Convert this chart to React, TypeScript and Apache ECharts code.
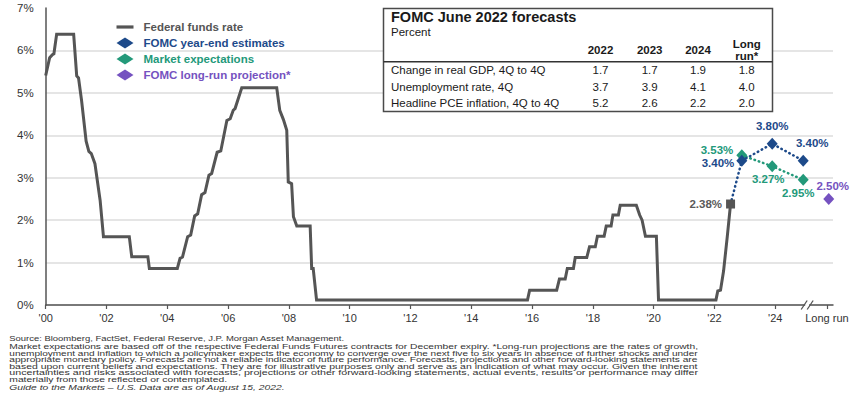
import React, { useEffect, useRef } from "react";
import * as echarts from "echarts";

// ---------- Data ----------
const ffDates = [
  2000.0, 2000.13, 2000.22, 2000.27, 2000.36, 2000.92, 2001.02, 2001.08, 2001.18, 2001.33,
  2001.42, 2001.5, 2001.62, 2001.79, 2001.9, 2002.75, 2002.83, 2003.36, 2003.41, 2004.33,
  2004.42, 2004.5, 2004.67, 2004.77, 2004.9, 2005.0, 2005.13, 2005.24, 2005.37, 2005.46,
  2005.64, 2005.76, 2005.96, 2006.07, 2006.17, 2006.23, 2006.45, 2007.6, 2007.7, 2007.82,
  2007.93, 2007.98, 2008.09, 2008.15, 2008.26, 2008.7, 2008.75, 2008.8, 2008.91, 2015.85,
  2015.92, 2016.81, 2016.9, 2017.09, 2017.16, 2017.36, 2017.42, 2017.8, 2017.89, 2018.08,
  2018.15, 2018.37, 2018.44, 2018.6, 2018.66, 2018.84, 2018.9, 2019.43, 2019.54, 2019.62,
  2019.73, 2020.09, 2020.16, 2022.05, 2022.11, 2022.2, 2022.3, 2022.42, 2022.53,
];
const ffRates = [
  5.41, 5.83, 5.9, 5.92, 6.38, 6.38, 5.4, 5.35, 4.82, 3.86,
  3.62, 3.57, 3.33, 2.47, 1.61, 1.61, 1.14, 1.14, 0.86, 0.86,
  1.1, 1.13, 1.61, 1.65, 2.1, 2.15, 2.6, 2.65, 3.06, 3.1,
  3.6, 3.63, 4.35, 4.39, 4.59, 4.63, 5.12, 5.12, 4.59, 4.37,
  4.12, 2.9, 2.86, 2.08, 1.86, 1.86, 0.86, 0.86, 0.12, 0.12,
  0.35, 0.35, 0.61, 0.61, 0.86, 0.86, 1.12, 1.12, 1.37, 1.37,
  1.62, 1.62, 1.86, 1.86, 2.12, 2.12, 2.35, 2.35, 2.12, 2.0,
  1.62, 1.62, 0.12, 0.12, 0.33, 0.35, 0.8, 1.6, 2.38,
];
const currentDate = 2022.53;
const currentRate = 2.38;

const projDates = [2022.9, 2023.9, 2024.92];
const fomcEstimates = [3.4, 3.8, 3.4];
const marketExpect = [3.53, 3.27, 2.95];
const longRunDate = 2025.76;
const longRunValue = 2.5;

const xTickValues = [2000, 2002, 2004, 2006, 2008, 2010, 2012, 2014, 2016, 2018, 2020, 2022, 2024, 2025.7];
const breakDate = 2025.05;

const tableTitle = "FOMC June 2022 forecasts";
const tableSubtitle = "Percent";
const tableCols = ["2022", "2023", "2024", "Long\nrun*"];
const tableRows = ["Change in real GDP, 4Q to 4Q", "Unemployment rate, 4Q", "Headline PCE inflation, 4Q to 4Q"];
const gdpValues = [1.7, 1.7, 1.9, 1.8];
const unempValues = [3.7, 3.9, 4.1, 4.0];
const pceValues = [5.2, 2.6, 2.2, 2.0];

const footLines = [
  "Source: Bloomberg, FactSet, Federal Reserve, J.P. Morgan Asset Management.",
  "Market expectations are based off of the respective Federal Funds Futures contracts for December expiry. *Long-run projections are the rates of growth,",
  "unemployment and inflation to which a policymaker expects the economy to converge over the next five to six years in absence of further shocks and under",
  "appropriate monetary policy. Forecasts are not a reliable indicator of future performance. Forecasts, projections and other forward-looking statements are",
  "based upon current beliefs and expectations. They are for illustrative purposes only and serve as an indication of what may occur. Given the inherent",
  "uncertainties and risks associated with forecasts, projections or other forward-looking statements, actual events, results or performance may differ",
  "materially from those reflected or contemplated.",
  "Guide to the Markets – U.S. Data are as of August 15, 2022.",
];

// ---------- Styles ----------
const FONT = "'Liberation Sans', Arial, sans-serif";
const GRAY = "#555555";
const NAVY = "#1d4a8a";
const GREEN = "#23997a";
const PURPLE = "#7552c0";

export default function App() {
  const ref = useRef<HTMLDivElement>(null);

  useEffect(() => {
    document.body.style.margin = "0";
    if (!ref.current) return;
    const chart = echarts.init(ref.current, null, { renderer: "svg" });

    const fedData = ffDates.map((d, i) => [d, ffRates[i]]);

    const lbl = (color: string, extra: any) => ({
      show: true,
      color,
      fontSize: 11.5,
      fontWeight: "bold",
      fontFamily: FONT,
      lineHeight: 12,
      formatter: (p: any) => p.value[1].toFixed(2) + "%",
      ...extra,
    });

    const fomcData: any[] = [
      { value: [currentDate, currentRate], symbol: "none", label: { show: false } },
      { value: [projDates[0], fomcEstimates[0]], label: lbl(NAVY, { position: "left", distance: 2, offset: [0, 2] }) },
      { value: [projDates[1], fomcEstimates[1]], label: lbl(NAVY, { position: "top", distance: 6 }) },
      { value: [projDates[2], fomcEstimates[2]], label: lbl(NAVY, { position: "top", distance: 6, offset: [9, 0] }) },
    ];
    const marketData: any[] = [
      { value: [projDates[0], marketExpect[0]], label: lbl(GREEN, { position: "left", distance: 3, offset: [0, -5] }) },
      { value: [projDates[1], marketExpect[1]], label: lbl(GREEN, { position: "bottom", distance: 1, offset: [-4, 0] }) },
      { value: [projDates[2], marketExpect[2]], label: lbl(GREEN, { position: "bottom", distance: 1, offset: [-5, 0] }) },
    ];

    // ----- table graphic -----
    const tX = 383.5, tY = 8.5, tW = 389, tH = 103;
    const colX = [600.5, 649.7, 698, 746.7];
    const rowY = [70, 86.7, 103.3];
    const rowVals = [gdpValues, unempValues, pceValues];
    const tableEls: any[] = [
      { type: "rect", shape: { x: tX, y: tY, width: tW, height: tH }, style: { fill: "#fff", stroke: "#4a4a4a", lineWidth: 1.5 }, z: 10 },
      { type: "text", x: 391, y: 17, z: 11, style: { text: tableTitle, fontSize: 14.5, fontWeight: "bold", fontFamily: FONT, fill: "#1a1a1a", textVerticalAlign: "middle" } },
      { type: "text", x: 391, y: 32, z: 11, style: { text: tableSubtitle, fontSize: 11.5, fontFamily: FONT, fill: "#1a1a1a", textVerticalAlign: "middle" } },
      { type: "line", z: 11, shape: { x1: tX, y1: 61.7, x2: tX + tW, y2: 61.7 }, style: { stroke: "#333", lineWidth: 1.5 } },
    ];
    tableCols.forEach((c, i) => {
      tableEls.push({ type: "text", x: colX[i], y: 50, z: 11, style: { text: c, fontSize: 11.5, fontWeight: "bold", lineHeight: 12, fontFamily: FONT, fill: "#1a1a1a", textAlign: "center", textVerticalAlign: "middle" } });
    });
    tableRows.forEach((r, ri) => {
      tableEls.push({ type: "text", x: 391, y: rowY[ri], z: 11, style: { text: r, fontSize: 11.5, fontFamily: FONT, fill: "#1a1a1a", textVerticalAlign: "middle" } });
      rowVals[ri].forEach((v, ci) => {
        tableEls.push({ type: "text", x: colX[ci], y: rowY[ri], z: 11, style: { text: v.toFixed(1), fontSize: 11.5, fontFamily: FONT, fill: "#1a1a1a", textAlign: "center", textVerticalAlign: "middle" } });
      });
    });

    // ----- footnote graphic -----
    const ctx = document.createElement("canvas").getContext("2d")!;
    const fs = 9;
    const measure = (t: string, italic: boolean) => {
      ctx.font = `${italic ? "italic " : ""}${fs}px "Liberation Sans"`;
      return ctx.measureText(t).width;
    };
    const footY = [338.5, 346.5, 353, 359.5, 366, 372.5, 379, 387.5];
    const justified = 689;
    const jScales = [1, 2, 3, 4, 5].map((i) => justified / measure(footLines[i], false));
    const avgScale = jScales.reduce((a, b) => a + b, 0) / jScales.length;
    const footEls: any[] = footLines.map((t, i) => {
      const italic = i === 7;
      let sx = avgScale;
      if (i >= 1 && i <= 5) sx = jScales[i - 1];
      if (i === 0) sx = 336 / measure(t, false);
      return {
        type: "text",
        x: 9.3,
        y: footY[i],
        scaleX: sx,
        scaleY: 0.86,
        style: {
          text: t,
          fontSize: fs,
          fontStyle: italic ? "italic" : "normal",
          fontFamily: FONT,
          fill: "#333",
          textVerticalAlign: "middle",
        },
      };
    });

    const option: any = {
      animation: false,
      backgroundColor: "#fff",
      textStyle: { fontFamily: FONT },
      grid: { left: 45.7, right: 20, top: 8, bottom: 91, containLabel: false },
      legend: {
        orient: "vertical",
        left: 116.5,
        top: 20,
        padding: 0,
        itemGap: 2,
        itemWidth: 17,
        itemHeight: 11,
        textStyle: { fontSize: 11.5, fontWeight: "bold", fontFamily: FONT, lineHeight: 14, padding: [0, 0, 0, 5] },
        data: [
          { name: "Federal funds rate", icon: "path://M0,0H17V3.2H0Z", itemStyle: { color: GRAY }, textStyle: { color: GRAY } },
          { name: "FOMC year-end estimates", icon: "diamond", textStyle: { color: NAVY } },
          { name: "Market expectations", icon: "diamond", textStyle: { color: GREEN } },
          { name: "FOMC long-run projection*", icon: "diamond", itemStyle: { color: PURPLE, opacity: 1 }, textStyle: { color: PURPLE } },
        ],
      },
      xAxis: {
        type: "value",
        min: 2000,
        max: 2025.9,
        axisLine: { lineStyle: { color: GRAY, width: 1.5 } },
        axisTick: { show: true, length: 4, customValues: xTickValues, lineStyle: { color: GRAY, width: 1.2 } },
        axisLabel: {
          customValues: xTickValues,
          margin: 7,
          fontSize: 11,
          color: "#333",
          fontFamily: FONT,
          formatter: (v: number) => (v > 2025 ? "Long run" : "'" + String(Math.round(v)).slice(2)),
        },
        splitLine: { show: false },
      },
      yAxis: {
        type: "value",
        min: 0,
        max: 7,
        interval: 1,
        axisLine: { show: true, lineStyle: { color: GRAY, width: 1.5 } },
        axisTick: { show: false },
        axisLabel: { formatter: "{value}%", fontSize: 11.5, color: "#333", margin: 12, fontFamily: FONT },
        splitLine: { show: true, showMaxLine: false, lineStyle: { color: "#dcdcdc", width: 1.5 } },
      },
      series: [
        {
          name: "Federal funds rate",
          type: "line",
          data: fedData,
          symbol: "none",
          lineStyle: { color: GRAY, width: 3, join: "miter" },
          itemStyle: { color: GRAY },
          z: 3,
        },
        {
          name: "FOMC year-end estimates",
          type: "line",
          data: fomcData,
          symbol: "diamond",
          symbolSize: [11, 12],
          lineStyle: { color: NAVY, width: 2.5, type: [0.5, 4], cap: "round" },
          itemStyle: { color: NAVY },
          z: 5,
        },
        {
          name: "Market expectations",
          type: "line",
          data: marketData,
          symbol: "diamond",
          symbolSize: [11, 12],
          lineStyle: { color: GREEN, width: 2.5, type: [0.5, 4], cap: "round" },
          itemStyle: { color: GREEN },
          z: 4,
        },
        {
          name: "FOMC long-run projection*",
          type: "scatter",
          data: [{ value: [longRunDate, longRunValue], label: lbl(PURPLE, { position: "top", distance: 1, offset: [4, 0] }) }],
          symbol: "diamond",
          symbolSize: [11, 12],
          itemStyle: { color: PURPLE, opacity: 1 },
          z: 5,
        },
        {
          name: "Current rate",
          type: "scatter",
          data: [{ value: [currentDate, currentRate], label: lbl("#5a5a5a", { position: "left", distance: 4 }) }],
          symbol: "rect",
          symbolSize: 9,
          itemStyle: { color: "#555", opacity: 1 },
          z: 6,
        },
        {
          name: "axis break",
          type: "custom",
          clip: false,
          silent: true,
          z: 6,
          data: [[breakDate, 0]],
          renderItem: (params: any, api: any) => {
            const p = api.coord([api.value(0), api.value(1)]);
            const mk = (dx: number) => ({
              type: "line",
              shape: { x1: p[0] + dx - 3, y1: p[1] + 4.5, x2: p[0] + dx + 3, y2: p[1] - 4.5 },
              style: { stroke: GRAY, lineWidth: 1.3 },
            });
            return {
              type: "group",
              children: [
                { type: "rect", shape: { x: p[0] - 2, y: p[1] - 1.5, width: 4, height: 3 }, style: { fill: "#fff" } },
                mk(-3),
                mk(3),
              ],
            };
          },
        },
      ],
      graphic: { elements: [...tableEls, ...footEls] },
    };

    chart.setOption(option);
    return () => chart.dispose();
  }, []);

  return <div ref={ref} style={{ width: 853, height: 396, position: "absolute", left: 0, top: 0 }} />;
}
